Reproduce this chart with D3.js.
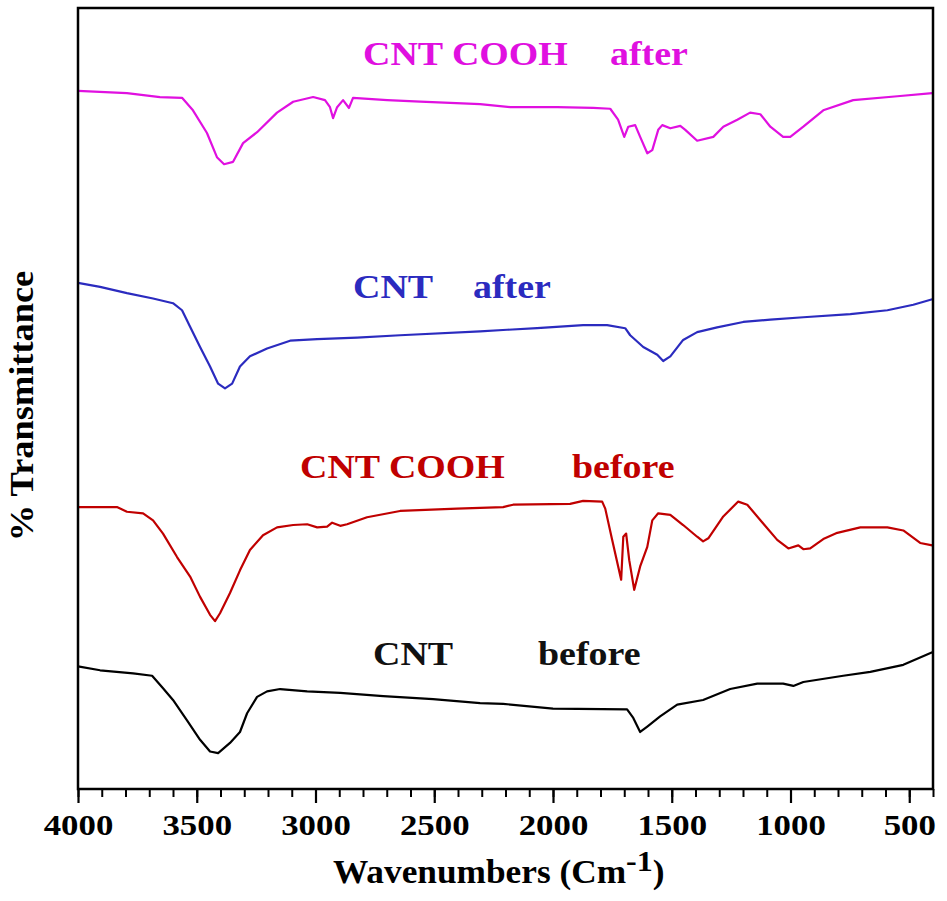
<!DOCTYPE html>
<html>
<head>
<meta charset="utf-8">
<script src="https://cdn.jsdelivr.net/npm/d3@7"></script>
<style>
  html, body { margin: 0; padding: 0; background: #fff; }
  svg text { font-family: "Liberation Serif", "Times New Roman", serif; font-weight: bold; }
</style>
</head>
<body>
<svg id="chart" width="947" height="901"></svg>
<script>
/* wavenumbers (cm-1) and % transmittance */
const wnCooAfter = [4000, 3794, 3655, 3562, 3516, 3457, 3415, 3385, 3347, 3305, 3246, 3162, 3094, 3010, 2960, 2939, 2926, 2909, 2884, 2859, 2842, 2698, 2559, 2307, 2180, 1982, 1831, 1759, 1726, 1700, 1683, 1654, 1633, 1603, 1582, 1557, 1540, 1506, 1464, 1443, 1393, 1325, 1283, 1224, 1170, 1127, 1085, 1031, 1001, 946, 862, 736, 550, 403];
const tCooAfter  = [89.4, 89.1, 88.6, 88.5, 86.9, 84.0, 80.9, 80.0, 80.3, 82.7, 84.1, 86.6, 88.0, 88.6, 88.2, 87.3, 85.9, 87.3, 88.2, 87.2, 88.5, 88.2, 88.0, 87.7, 87.3, 87.3, 87.2, 87.1, 85.7, 83.5, 84.8, 85.0, 83.5, 81.4, 81.8, 84.4, 85.0, 84.6, 84.9, 84.4, 83.0, 83.5, 84.8, 85.7, 86.6, 86.4, 84.8, 83.5, 83.5, 84.8, 86.9, 88.2, 88.7, 89.1];

const wnCntAfter = [4000, 3907, 3794, 3684, 3600, 3562, 3528, 3486, 3444, 3410, 3381, 3351, 3318, 3276, 3204, 3107, 2993, 2825, 2644, 2307, 2193, 2067, 1873, 1772, 1696, 1675, 1620, 1561, 1536, 1506, 1452, 1393, 1309, 1199, 1085, 946, 748, 592, 483, 403];
const tCntAfter  = [64.8, 64.3, 63.5, 62.8, 62.2, 61.3, 59.2, 56.6, 54.1, 51.9, 51.3, 51.9, 54.1, 55.4, 56.4, 57.4, 57.6, 57.8, 58.1, 58.6, 58.8, 59.0, 59.4, 59.4, 59.0, 58.1, 56.6, 55.6, 54.8, 55.4, 57.5, 58.5, 59.1, 59.8, 60.1, 60.4, 60.8, 61.3, 62.0, 62.7];

const wnCooBefore = [4000, 3836, 3794, 3726, 3684, 3642, 3583, 3528, 3486, 3444, 3423, 3402, 3360, 3318, 3276, 3221, 3162, 3094, 3035, 2993, 2951, 2930, 2896, 2867, 2783, 2644, 2404, 2210, 2168, 1928, 1873, 1793, 1780, 1751, 1713, 1704, 1692, 1679, 1658, 1633, 1603, 1582, 1557, 1506, 1452, 1393, 1368, 1346, 1283, 1220, 1182, 1115, 1056, 1009, 967, 946, 917, 862, 803, 706, 592, 525, 454, 403];
const tCooBefore  = [36.1, 36.1, 35.5, 35.3, 34.4, 32.7, 29.7, 27.2, 24.6, 22.3, 21.5, 22.5, 25.1, 28.0, 30.6, 32.5, 33.5, 33.8, 33.9, 33.5, 33.6, 34.1, 33.7, 33.9, 34.8, 35.6, 35.9, 36.1, 36.4, 36.5, 36.9, 36.8, 35.9, 31.9, 26.8, 32.3, 32.7, 29.3, 25.5, 28.5, 31.0, 34.4, 35.3, 35.1, 33.8, 32.3, 31.7, 32.1, 34.9, 36.8, 36.4, 34.0, 31.9, 30.8, 31.2, 30.7, 30.8, 32.0, 32.8, 33.5, 33.5, 33.1, 31.5, 31.2];

const wnCntBefore = [4000, 3907, 3768, 3688, 3642, 3600, 3541, 3486, 3444, 3410, 3360, 3318, 3288, 3246, 3204, 3149, 3035, 2896, 2715, 2505, 2307, 2210, 2000, 1688, 1662, 1633, 1603, 1549, 1477, 1368, 1254, 1140, 1031, 988, 946, 778, 664, 525, 403];
const tCntBefore  = [15.7, 15.2, 14.8, 14.5, 12.9, 11.4, 8.8, 6.3, 4.8, 4.6, 5.9, 7.3, 9.7, 11.8, 12.5, 12.8, 12.5, 12.3, 11.9, 11.5, 11.0, 10.9, 10.3, 10.2, 9.1, 7.3, 8.0, 9.3, 10.8, 11.4, 12.8, 13.5, 13.5, 13.2, 13.7, 14.5, 15.0, 15.9, 17.5];

const majorTicks = [4000, 3500, 3000, 2500, 2000, 1500, 1000, 500];
const minorTicks = d3.range(4000, 399, -100);

const svg = d3.select('#chart');
const plotLeft = 78, plotRight = 933, plotTop = 8, plotBottom = 789;

const x = d3.scaleLinear().domain([4000, 400]).range([plotLeft, plotRight]);
const y = d3.scaleLinear().domain([0, 100]).range([plotBottom, plotTop]);

const series = [
    {wn: wnCooAfter, t: tCooAfter, color: '#e010e0'},
    {wn: wnCntAfter, t: tCntAfter, color: '#2b2bbf'},
    {wn: wnCooBefore, t: tCooBefore, color: '#c00000'},
    {wn: wnCntBefore, t: tCntBefore, color: '#000000'}
];

const line = d3.line()
    .x(d => x(d[0]))
    .y(d => y(d[1]));

series.forEach(s => {
    svg.append('path')
        .datum(s.wn.map((w, i) => [w, s.t[i]]))
        .attr('fill', 'none')
        .attr('stroke', s.color)
        .attr('stroke-width', 2.2)
        .attr('stroke-linejoin', 'round')
        .attr('d', line);
});

/* minor ticks */
svg.append('g')
    .attr('transform', `translate(0,${plotBottom})`)
    .call(d3.axisBottom(x).tickValues(minorTicks).tickSize(8).tickFormat(''))
    .call(g => g.select('.domain').remove())
    .call(g => g.selectAll('line').attr('stroke', '#000').attr('stroke-width', 2));

/* major ticks + labels */
svg.append('g')
    .attr('transform', `translate(0,${plotBottom})`)
    .call(d3.axisBottom(x).tickValues(majorTicks).tickSize(14).tickFormat(d3.format('d')))
    .call(g => g.select('.domain').remove())
    .call(g => g.selectAll('line').attr('stroke', '#000').attr('stroke-width', 2.2))
    .call(g => g.selectAll('text')
        .attr('y', 0).attr('dy', 0)
        .attr('transform', 'translate(0,46) scale(1.2,1)')
        .attr('font-size', 29)
        .attr('fill', '#000'));

/* frame */
svg.append('rect')
    .attr('x', plotLeft).attr('y', plotTop)
    .attr('width', plotRight - plotLeft).attr('height', plotBottom - plotTop)
    .attr('fill', 'none')
    .attr('stroke', '#000')
    .attr('stroke-width', 2.5);

/* curve labels */
const labels = [
    {text: 'CNT COOH', x: 363, y: 65, color: '#e010e0'},
    {text: 'after', x: 610, y: 65, color: '#e010e0'},
    {text: 'CNT', x: 353, y: 298, color: '#2b2bbf'},
    {text: 'after', x: 473, y: 298, color: '#2b2bbf'},
    {text: 'CNT COOH', x: 300, y: 478, color: '#c00000'},
    {text: 'before', x: 572, y: 478, color: '#c00000'},
    {text: 'CNT', x: 373, y: 665, color: '#111'},
    {text: 'before', x: 538, y: 665, color: '#111'}
];
svg.selectAll('.curve-label')
    .data(labels)
    .enter()
    .append('text')
    .attr('class', 'curve-label')
    .attr('transform', d => `translate(${d.x},${d.y}) scale(1.15,1)`)
    .attr('font-size', 33)
    .attr('fill', d => d.color)
    .text(d => d.text);

/* x-axis title */
const xt = svg.append('text')
    .attr('transform', 'translate(333,883) scale(1.07,1)')
    .attr('font-size', 33)
    .attr('fill', '#000');
xt.append('tspan').text('Wavenumbers (Cm');
xt.append('tspan').attr('dy', -12).attr('font-size', 30).text('-1');
xt.append('tspan').attr('dy', 12).text(')');

/* y-axis title */
svg.append('text')
    .attr('transform', 'translate(33,406) rotate(-90) scale(1.07,1)')
    .attr('text-anchor', 'middle')
    .attr('font-size', 34)
    .attr('fill', '#000')
    .text('% Transmittance');
</script>
</body>
</html>
